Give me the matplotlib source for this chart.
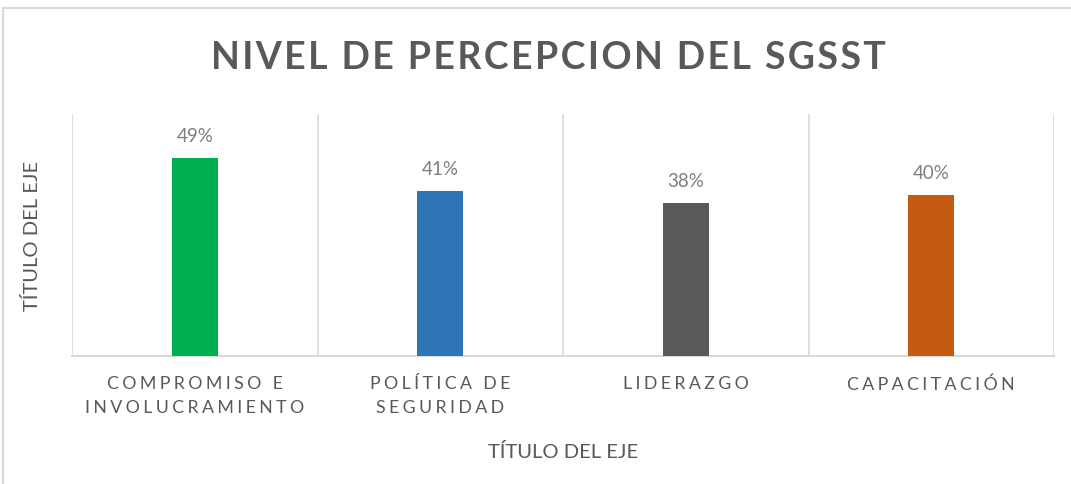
import matplotlib.pyplot as plt
from matplotlib.patches import Rectangle

plt.rcParams['font.family'] = ['Lato', 'DejaVu Sans']

categories = ['COMPROMISO E\nINVOLUCRAMIENTO', 'POLÍTICA DE\nSEGURIDAD', 'LIDERAZGO', 'CAPACITACIÓN']
values = [0.49, 0.41, 0.38, 0.40]
bar_colors = ['#00B050', '#2E75B6', '#595959', '#C55A11']
title = 'NIVEL DE PERCEPCION DEL SGSST'
axis_title = 'TÍTULO DEL EJE'

GRID = '#D9D9D9'
TEXT = '#595959'


def spaced(s, gap='\u2009'):
    # imitate Excel letter spacing
    return '\n'.join(gap.join(line) for line in s.split('\n'))


fig = plt.figure(figsize=(10.71, 4.85), dpi=100)
fig.patches.append(Rectangle((3 / 1071, -0.1), 1.2, 1 - 9 / 485 + 0.1,
                             transform=fig.transFigure, fill=False,
                             edgecolor=GRID, linewidth=1.5))
ax = fig.add_axes([72 / 1071, 1 - 357 / 485, (1054 - 72) / 1071, (357 - 115) / 485])

x = range(len(categories))
bars = ax.bar(x, values, width=0.187, color=bar_colors, zorder=3)
for b, v in zip(bars, values):
    ax.annotate(f'{v:.0%}', (b.get_x() + b.get_width() / 2, v), xytext=(0, 10),
                textcoords='offset points', ha='center', va='bottom',
                fontsize=13.5, color='#7F7F7F')

ax.set_xlim(-0.5, len(categories) - 0.5)
ax.set_ylim(0, 0.6)
for i in range(len(categories) + 1):
    ax.axvline(i - 0.5, color=GRID, linewidth=1.2, zorder=1)

ax.set_xticks(list(x))
ax.set_xticklabels([spaced(c, '\u2009\u200a') for c in categories], fontsize=12.8,
                   color=TEXT, linespacing=1.6)
ax.tick_params(axis='x', length=0, pad=14)
ax.set_yticks([])
for side in ['top', 'right', 'left']:
    ax.spines[side].set_visible(False)
ax.spines['bottom'].set_color(GRID)
ax.spines['bottom'].set_linewidth(1.5)

ax.set_xlabel(axis_title, fontsize=14.5, color=TEXT, labelpad=19)
ax.set_ylabel(axis_title, fontsize=14.5, color=TEXT, labelpad=22)

fig.text(548 / 1071, 1 - 58 / 485, spaced(title, '\u200a'), ha='center', va='center',
         fontsize=27, fontweight='bold', color=TEXT)

fig.savefig('out.png', dpi=100)
